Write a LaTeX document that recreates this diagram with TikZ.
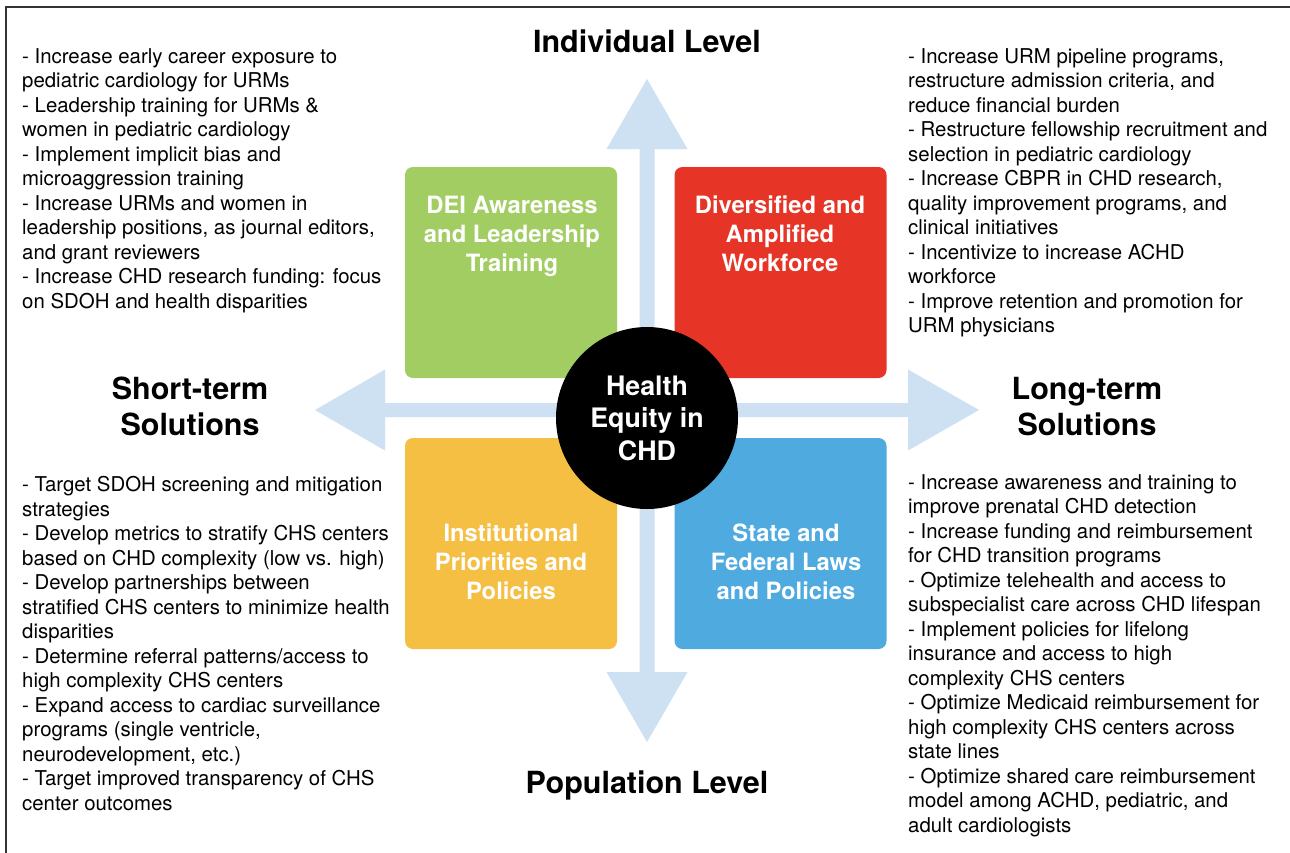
\documentclass[tikz,border=0pt]{standalone}
\usepackage{fontspec}
\setmainfont{TeX Gyre Heros}
\definecolor{cgreen}{HTML}{A2CD62}
\definecolor{cred}{HTML}{E63426}
\definecolor{cyellow}{HTML}{F5BF44}
\definecolor{cblue}{HTML}{4FAADF}
\definecolor{carrow}{HTML}{CDE1F2}
\definecolor{cborder}{HTML}{333333}
\begin{document}
\begin{tikzpicture}[x=1pt,y=-1pt,
  quad/.style={rectangle, rounded corners=8pt, minimum width=212pt, minimum height=211pt, inner sep=0pt},
  quadtext/.style={anchor=north, align=center, text=white, inner sep=0pt, font=\fontsize{23.8}{29}\selectfont\bfseries},
  bullets/.style={anchor=north west, align=left, inner sep=0pt, font=\fontsize{20.4}{24.5}\selectfont},
  heading/.style={align=center, inner sep=0pt, font=\fontsize{30.5}{36}\selectfont\bfseries},
  hub/.style={circle, fill=black, minimum size=182pt, inner sep=0pt, align=center, text=white, font=\fontsize{26.8}{32.5}\selectfont\bfseries}
]
\useasboundingbox (0,0) rectangle (1290,852);
\fill[white] (0,0) rectangle (1290,852);
\draw[line width=2pt, cborder] (1300,7) -- (6,7) -- (6,870);

% big cross arrows
\coordinate (up) at (647,79);
\coordinate (down) at (647,742);
\coordinate (left) at (315,410);
\coordinate (right) at (979,410);
\fill[carrow] (up) -- ++(40.5,70) -- ++(-33,0) -- (654.5,672) -- ++(33,0) -- (down)
  -- (606.5,672) -- ++(33,0) -- (639.5,149) -- ++(-33,0) -- cycle;
\fill[carrow] (left) -- ++(70,-40.5) -- ++(0,33.5) -- (908,403) -- ++(0,-33.5) -- (right)
  -- (908,450.5) -- ++(0,-33.5) -- (385,417) -- ++(0,33.5) -- cycle;

% quadrants
\node[quad, fill=cgreen] (dei) at (511,272.5) {};
\node[quad, fill=cred] (div) at (780.5,272.5) {};
\node[quad, fill=cyellow] (inst) at (511,543.5) {};
\node[quad, fill=cblue] (laws) at (780.5,543.5) {};
\node[quadtext] (deit) at (512,195.5) {DEI Awareness\\and Leadership\\Training};
\node[quadtext] (divt) at (780,195.5) {Diversified and\\Amplified\\Workforce};
\node[quadtext] (instt) at (511,523.5) {Institutional\\Priorities and\\Policies};
\node[quadtext] (lawst) at (786,523.5) {State and\\Federal Laws\\and Policies};

\node[hub] (center) at (647,418) {Health\\Equity in\\CHD};

% headings
\node[heading] (ind) at (647,41) {Individual Level};
\node[heading, anchor=base] (pop) at (647,793) {Population Level};
\node[heading] (short) at (190,406) {Short-term\\Solutions};
\node[heading] (long) at (1087,407) {Long-term\\Solutions};

% bullet lists
\node[bullets] (tl) at (22,48.3) {- Increase early career exposure to\\
pediatric cardiology for URMs\\
- Leadership training for URMs \&\\
women in pediatric cardiology\\
- Implement implicit bias and\\
microaggression training\\
- Increase URMs and women in\\
leadership positions, as journal editors,\\
and grant reviewers\\
- Increase CHD research funding: focus\\
on SDOH and health disparities};

\node[bullets] (tr) at (908,48.3) {- Increase URM pipeline programs,\\
restructure admission criteria, and\\
reduce financial burden\\
- Restructure fellowship recruitment and\\
selection in pediatric cardiology\\
- Increase CBPR in CHD research,\\
quality improvement programs, and\\
clinical initiatives\\
- Incentivize to increase ACHD\\
workforce\\
- Improve retention and promotion for\\
URM physicians};

\node[bullets] (bl) at (22,476.3) {- Target SDOH screening and mitigation\\
strategies\\
- Develop metrics to stratify CHS centers\\
based on CHD complexity (low vs. high)\\
- Develop partnerships between\\
stratified CHS centers to minimize health\\
disparities\\
- Determine referral patterns/access to\\
high complexity CHS centers\\
- Expand access to cardiac surveillance\\
programs (single ventricle,\\
neurodevelopment, etc.)\\
- Target improved transparency of CHS\\
center outcomes};

\node[bullets] (br) at (908,474.3) {- Increase awareness and training to\\
improve prenatal CHD detection\\
- Increase funding and reimbursement\\
for CHD transition programs\\
- Optimize telehealth and access to\\
subspecialist care across CHD lifespan\\
- Implement policies for lifelong\\
insurance and access to high\\
complexity CHS centers\\
- Optimize Medicaid reimbursement for\\
high complexity CHS centers across\\
state lines\\
- Optimize shared care reimbursement\\
model among ACHD, pediatric, and\\
adult cardiologists};
\end{tikzpicture}
\end{document}
